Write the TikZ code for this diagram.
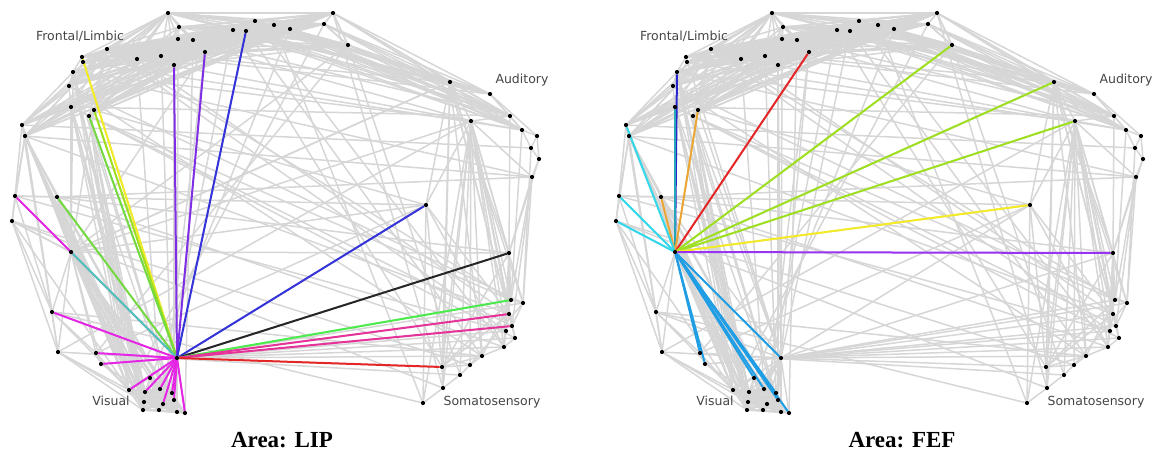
\documentclass[tikz,border=0pt]{standalone}
\usepackage{fontspec}
\setmainfont{Liberation Serif}
\newfontfamily\regionfont{DejaVu Sans}
\usepackage{tikz}
\pgfdeclarelayer{grayedges}
\pgfdeclarelayer{coledges}
\pgfsetlayers{grayedges,coledges,main}
\definecolor{edgegray}{rgb}{0.84,0.84,0.84}
\definecolor{lblgray}{rgb}{0.27,0.27,0.27}
\definecolor{cyellow}{rgb}{0.95,0.92,0.15}
\definecolor{cchart}{rgb}{0.62,0.88,0.12}
\definecolor{cgreen}{rgb}{0.45,0.85,0.25}
\definecolor{clime}{rgb}{0.30,0.92,0.30}
\definecolor{cviolet}{rgb}{0.50,0.18,0.90}
\definecolor{cblue}{rgb}{0.20,0.20,0.85}
\definecolor{cblack}{rgb}{0.15,0.15,0.15}
\definecolor{cpink}{rgb}{0.90,0.20,0.60}
\definecolor{cred}{rgb}{0.90,0.15,0.15}
\definecolor{cmagenta}{rgb}{0.90,0.15,0.90}
\definecolor{cteal}{rgb}{0.30,0.80,0.72}
\definecolor{ccyan}{rgb}{0.20,0.85,0.92}
\definecolor{cdeepblue}{rgb}{0.15,0.15,0.80}
\definecolor{cseablue}{rgb}{0.15,0.65,0.72}
\definecolor{corange}{rgb}{0.92,0.65,0.20}
\definecolor{cskyblue}{rgb}{0.12,0.62,0.90}
\definecolor{cpurple}{rgb}{0.60,0.20,0.95}
\tikzset{
  brainnode/.style={circle,fill=black,inner sep=0pt,minimum size=4.2pt},
  grayedge/.style={draw=edgegray,line width=1.5pt},
  coledge/.style={line width=2pt},
  regionlbl/.style={font=\regionfont\fontsize{12.5}{14}\selectfont,text=lblgray,inner sep=0pt},
  areatitle/.style={font=\bfseries\fontsize{23}{26}\selectfont,inner sep=0pt}
}
%% hub links of each panel
\newcommand{\liplinks}{f18/cyellow,f23/cchart,f24/cgreen,f28/cgreen,f16/cviolet,f17/cviolet,f6/cblue,a10/cblue,s1/cblack,s2/clime,s4/cpink,s5/cpink,s11/cred,f27/cmagenta,f30/cteal,v1/cmagenta,v3/cmagenta,v4/cmagenta,v6/cmagenta,v7/cmagenta,v8/cmagenta,v9/cmagenta,v12/cmagenta,v13/cmagenta,v17/cmagenta}
\newcommand{\feflinks}{f20/cdeepblue,f22/cseablue,f23/corange,f28/corange,f25/ccyan,f27/ccyan,f29/ccyan,f17/cred,f12/cchart,a1/cchart,a4/cchart,a10/cyellow,s1/cpurple,v3/cskyblue,v4/cskyblue,v10/cskyblue,v8/cskyblue,v9/cskyblue,v13/cskyblue,v17/cskyblue,v5/cskyblue}
\newcommand{\drawbrain}{
  \node[regionlbl] (frontal) at (80,36) {Frontal/Limbic};
  \node[regionlbl] (auditory) at (522,80) {Auditory};
  \node[regionlbl] (visual) at (111,401) {Visual};
  \node[regionlbl] (somato) at (492,402) {Somatosensory};
  %% areas
  \foreach \n/\x/\y in {f1/168/13,f2/179/27,f3/178/39,f4/193/40,f5/233/30,f6/246/31,f7/255/21,f8/274/25,f9/290/29,f10/324/24,f11/333/13,f12/348/45,f13/107/49,f14/137/59,f15/161/56,f16/174/65,f17/205/52,f18/82/57,f19/83/62,f20/73/72,f21/69/86,f22/71/107,f23/94/110,f24/89/116,f25/22/125,f26/25/136,f27/15/196,f28/57/197,f29/12/221,f30/71/252}
    \node[brainnode] (\n) at (\x,\y) {};
  \foreach \n/\x/\y in {a1/450/82,a2/490/94,a3/510/116,a4/471/121,a5/522/130,a6/537/136,a7/531/148,a8/539/159,a9/532/177,a10/426/205}
    \node[brainnode] (\n) at (\x,\y) {};
  \foreach \n/\x/\y in {s1/509/253,s2/511/300,s3/523/303,s4/509/314,s5/512/326,s6/506/331,s7/515/338,s8/504/347,s9/482/356,s10/470/365,s11/442/367,s12/460/375,s13/443/388,s14/423/403}
    \node[brainnode] (\n) at (\x,\y) {};
  \foreach \n/\x/\y in {v1/52/312,v2/58/352,v3/96/353,v4/101/364,v5/177/358,v6/129/390,v7/145/392,v8/160/389,v9/172/393,v10/150/378,v11/144/402,v12/163/404,v13/174/400,v14/143/410,v15/159/410,v16/177/412,v17/185/413}
    \node[brainnode] (\n) at (\x,\y) {};
  \begin{pgfonlayer}{grayedges}
  %% frontal mesh
  \foreach \i in {1,...,16}{
    \pgfmathtruncatemacro{\k}{\i+1}
    \foreach \j in {\k,...,17}
      \draw[grayedge] (f\i) -- (f\j);
  }
  \foreach \i in {18,...,26}
    \foreach \j in {1,3,...,17}
      \draw[grayedge] (f\i) -- (f\j);
  \foreach \i in {5,...,12}
    \foreach \j in {1,2,3,5}
      \draw[grayedge] (f\i) -- (a\j);
  %% auditory to somatosensory
  \foreach \j in {1,...,14}
    \draw[grayedge] (a4) -- (s\j);
  \foreach \j in {1,3,...,13}
    \draw[grayedge] (a1) -- (s\j);
  %% visual mesh
  \foreach \i in {6,...,16}{
    \pgfmathtruncatemacro{\k}{\i+1}
    \foreach \j in {\k,...,17}
      \draw[grayedge] (v\i) -- (v\j);
  }
  \foreach \i in {20,22,24,26,28,30}
    \foreach \j in {6,7,11,14,16}
      \draw[grayedge] (f\i) -- (v\j);
  \foreach \a/\b in {f18/f20,f19/f21,f20/f21,f21/f22,f22/f24,f23/f24,f20/f25,f21/f25,f22/f25,f25/f26,f26/f27,f25/f27,f27/f29,f26/f29,f28/f27,f28/f26,f29/f30,f27/f30,f28/f30,f13/f26,f14/f26,f29/v1,f27/v1,f26/v1,f25/v2,f29/v2,v1/v2,f30/v1,f30/v2,f25/v6,f26/v11,f29/v14,
      f1/a1,f2/a2,f4/a3,f13/a1,f15/a2,f3/a4,f14/a4,f10/f11,f9/f10,f10/f12,f11/f12,f8/f10,f7/f11,
      a1/a2,a2/a3,a3/a5,a5/a6,a6/a7,a7/a8,a8/a9,a5/a7,a3/a4,a1/a4,a4/a5,a2/a6,a9/a4,a10/a4,a10/a1,a1/a3,a2/a5,a6/a8,
      a9/s1,a9/s3,a9/s2,a8/s1,a7/s3,a10/s4,a10/s8,a10/s11,a10/s14,a3/s1,a5/s2,a9/s5,
      s1/s2,s2/s3,s3/s5,s5/s7,s7/s8,s8/s9,s9/s10,s10/s12,s12/s13,s13/s14,s4/s6,s6/s8,s1/s4,s1/s6,s1/s11,s11/s13,s11/s10,s11/s9,s2/s11,s4/s11,s1/s8,s2/s9,s3/s10,
      v2/v6,v2/v11,v2/v14,v1/v6,v3/v4,v3/v6,v4/v7,v1/v3,v5/v16,v5/v11,v5/v14,
      f15/v9,f16/v13,f3/v16,f4/v17,f14/v8,f17/v12,f5/v15,
      f22/s5,f24/s7,f21/s3,f26/a9,f25/a7,f13/s2,f14/s4,f20/a4,f23/a10,f28/s1,f27/s6,f12/v3,f10/v6,f9/v7,f8/s14,f5/s11,f6/s9,f7/s8,f11/s13,f12/s12,a10/v3,a4/v2,a1/f30,a9/f28,s14/v1,s13/f29,s3/v5,s6/v5,s7/v5,s8/v5,s9/v5,f21/s9,f24/s2,f13/s6,f20/a9,f19/a5,f22/a3,f26/s4,f28/s8,f29/s10,v2/s12,v1/s9,f27/a10}
    \draw[grayedge] (\a) -- (\b);
  \foreach \t/\c in \liplinks
    \draw[grayedge] (v5) -- (\t);
  \foreach \t/\c in \feflinks
    \draw[grayedge] (f30) -- (\t);
  \end{pgfonlayer}
}

\begin{document}
\begin{tikzpicture}[x=1pt,y=-1pt]
  \useasboundingbox (0,0) rectangle (1158,455);

  \begin{scope}[name prefix=lip-]
    \drawbrain
    \begin{pgfonlayer}{coledges}
    \foreach \t/\c in \liplinks
      \draw[coledge,draw=\c] (v5) -- (\t);
    \end{pgfonlayer}
  \end{scope}

  \begin{scope}[xshift=604pt,name prefix=fef-]
    \drawbrain
    \begin{pgfonlayer}{coledges}
    \foreach \t/\c in \feflinks
      \draw[coledge,draw=\c] (f30) -- (\t);
    \end{pgfonlayer}
  \end{scope}

  \node[areatitle] (liptitle) at (282,440) {Area: LIP};
  \node[areatitle] (feftitle) at (902,440) {Area: FEF};
\end{tikzpicture}
\end{document}
